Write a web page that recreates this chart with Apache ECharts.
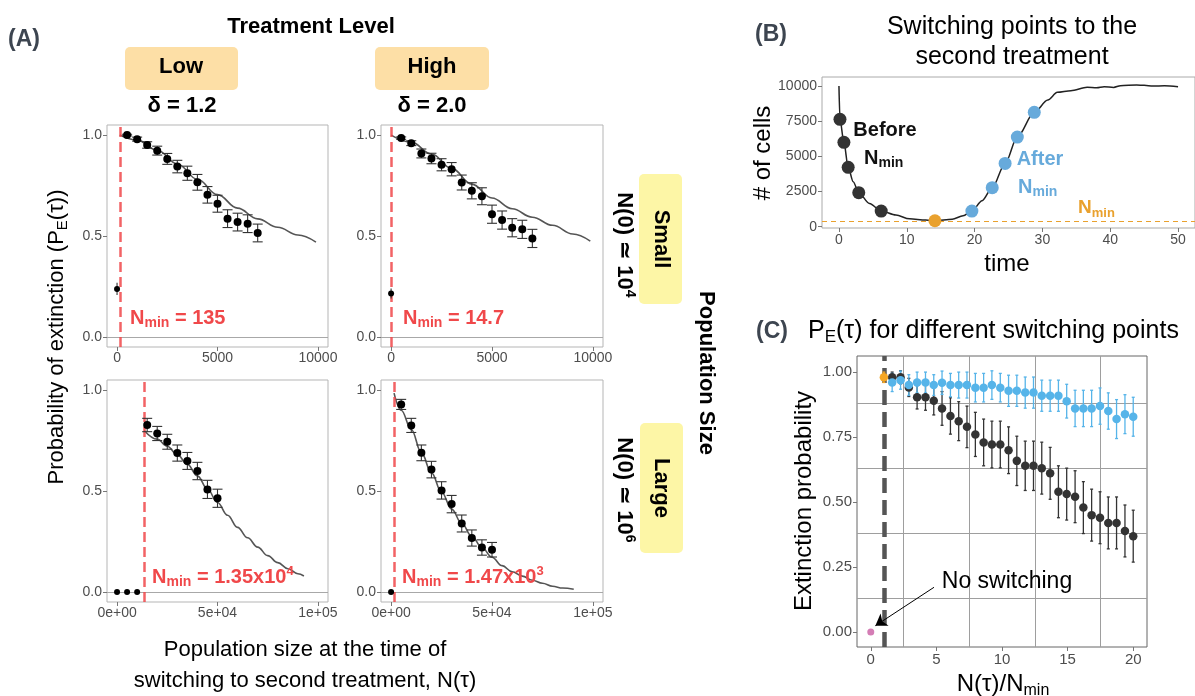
<!DOCTYPE html>
<html>
<head>
<meta charset="utf-8">
<title>Extinction probability vs switching point</title>
<script src="https://cdn.jsdelivr.net/npm/echarts@6/dist/echarts.min.js"></script>
<style>
  html, body { margin: 0; padding: 0; background: #fff; }
  #chart { width: 1195px; height: 696px; }
</style>
</head>
<body>
<div id="chart"></div>
<script>
// ---------- data: panel A (points = simulations, curve = theory) ----------
const smallX = [500, 1000, 1500, 2000, 2500, 3000, 3500, 4000, 4500, 5000, 5500, 6000, 6500, 7000];
const lowSmallY = [1.0, 0.98, 0.951, 0.923, 0.882, 0.844, 0.811, 0.766, 0.704, 0.66, 0.586, 0.569, 0.561, 0.515];
const lowSmallErr = [0.004, 0.01, 0.016, 0.022, 0.027, 0.031, 0.035, 0.039, 0.041, 0.042, 0.044, 0.044, 0.044, 0.044];
const highSmallY = [0.985, 0.96, 0.909, 0.884, 0.853, 0.831, 0.765, 0.724, 0.697, 0.608, 0.579, 0.541, 0.533, 0.488];
const highSmallErr = [0.006, 0.012, 0.022, 0.026, 0.03, 0.033, 0.037, 0.04, 0.042, 0.045, 0.045, 0.045, 0.045, 0.045];

const lowLargeX = [15000, 20000, 25000, 30000, 35000, 40000, 45000, 50000];
const lowLargeY = [0.827, 0.785, 0.744, 0.688, 0.649, 0.599, 0.508, 0.464];
const lowLargeErr = [0.033, 0.035, 0.037, 0.04, 0.042, 0.043, 0.045, 0.045];
const highLargeX = [5000, 10000, 15000, 20000, 25000, 30000, 35000, 40000, 45000, 50000];
const highLargeY = [0.929, 0.825, 0.689, 0.606, 0.503, 0.435, 0.339, 0.267, 0.22, 0.209];
const highLargeErr = [0.025, 0.035, 0.039, 0.041, 0.043, 0.043, 0.042, 0.04, 0.038, 0.036];

// no-switching points (at N = 0 and below Nmin)
const lowSmallNoX = [0], lowSmallNoY = [0.238], lowSmallNoErr = [0.03];
const highSmallNoX = [0], highSmallNoY = [0.215], highSmallNoErr = [0.025];
const lowLargeNoX = [0, 5000, 10000], lowLargeNoY = [0, 0, 0];
const highLargeNoX = [0], highLargeNoY = [0];

const lowSmallCurveX = [135, 1000, 2000, 3000, 4000, 5000, 6000, 7000, 8000, 9000, 9900];
const lowSmallCurveY = [1.0, 0.975, 0.925, 0.857, 0.781, 0.705, 0.638, 0.585, 0.543, 0.505, 0.47];
const highSmallCurveX = [0, 1000, 2000, 3000, 4000, 5000, 6000, 7000, 8000, 9000, 9870];
const highSmallCurveY = [1.0, 0.965, 0.906, 0.835, 0.757, 0.688, 0.635, 0.593, 0.553, 0.51, 0.475];
const lowLargeCurveX = [13500, 20000, 25000, 30000, 35000, 40000, 45000, 50000, 55000, 60000, 65000, 70000, 75000, 80000, 85000, 90000, 93000];
const lowLargeCurveY = [0.8, 0.757, 0.722, 0.68, 0.632, 0.575, 0.51, 0.443, 0.38, 0.32, 0.268, 0.222, 0.18, 0.145, 0.115, 0.09, 0.079];
const highLargeCurveX = [1470, 5000, 10000, 15000, 20000, 25000, 30000, 35000, 40000, 45000, 50000, 55000, 60000, 65000, 70000, 75000, 80000, 85000, 90500];
const highLargeCurveY = [0.985, 0.9, 0.805, 0.69, 0.59, 0.495, 0.41, 0.34, 0.275, 0.22, 0.172, 0.13, 0.1, 0.078, 0.058, 0.043, 0.028, 0.019, 0.013];

const nMinA = [135, 14.7, 13500, 1470];

const ticksSmallX = [0, 5000, 10000];
const labelsSmallX = ['0', '5000', '10000'];
const ticksLargeX = [0, 50000, 100000];
const labelsLargeX = ['0e+00', '5e+04', '1e+05'];
const ticksAY = [0, 0.5, 1];

// ---------- data: panel B (one trajectory) ----------
const bCurveT = [0, 0.15, 0.73, 1.36, 2.1, 2.92, 4.5, 6.23, 8.4, 10.4, 12.8, 14.15, 16.7, 18.3, 19.6, 21.1, 22.6, 24.5, 26.3, 28.8, 30.8, 32.2, 34.2, 36.6, 38, 39.1, 40.5, 41.5, 43.9, 45, 46.3, 48, 50];
const bCurveN = [10000, 7630, 5995, 4218, 3200, 2417, 1650, 1114, 830, 560, 470, 427, 540, 780, 1114, 1850, 2773, 4502, 6374, 8128, 9005, 9550, 9668, 9905, 9880, 9953, 9900, 10024, 10071, 10050, 10000, 10010, 9953];
const bBeforeT = [0.15, 0.73, 1.36, 2.92, 6.23];
const bBeforeN = [7630, 5995, 4218, 2417, 1114];
const bMinT = [14.15];
const bMinN = [427];
const bAfterT = [19.6, 22.6, 24.5, 26.3, 28.8];
const bAfterN = [1114, 2773, 4502, 6374, 8128];
const nMinB = 380;
const ticksBX = [0, 10, 20, 30, 40, 50];
const ticksBY = [0, 2500, 5000, 7500, 10000];

// ---------- data: panel C ----------
const cX = [1.63, 2.27, 2.90, 3.53, 4.17, 4.80, 5.43, 6.07, 6.70, 7.33, 7.97, 8.60, 9.23, 9.87, 10.50,
            11.13, 11.77, 12.40, 13.03, 13.67, 14.30, 14.93, 15.57, 16.20, 16.83, 17.47, 18.10, 18.73, 19.37, 20.00];
const cBeforeY = [0.981, 0.981, 0.942, 0.904, 0.904, 0.891, 0.861, 0.832, 0.812, 0.79, 0.761, 0.73, 0.722, 0.722, 0.70,
                  0.659, 0.64, 0.64, 0.631, 0.611, 0.54, 0.531, 0.521, 0.479, 0.45, 0.44, 0.42, 0.42, 0.389, 0.369];
const cBeforeErr = [0.02, 0.025, 0.035, 0.045, 0.05, 0.055, 0.065, 0.07, 0.075, 0.08, 0.085, 0.09, 0.09, 0.09, 0.09,
                    0.095, 0.095, 0.095, 0.1, 0.1, 0.1, 0.1, 0.1, 0.1, 0.1, 0.1, 0.1, 0.1, 0.1, 0.1];
const cAfterY = [0.961, 0.97, 0.951, 0.961, 0.961, 0.951, 0.96, 0.951, 0.951, 0.951, 0.941, 0.941, 0.951, 0.941, 0.929,
                 0.929, 0.922, 0.922, 0.91, 0.91, 0.91, 0.889, 0.861, 0.861, 0.861, 0.87, 0.851, 0.82, 0.839, 0.829];
const cAfterErr = [0.035, 0.035, 0.04, 0.04, 0.04, 0.04, 0.045, 0.045, 0.05, 0.05, 0.055, 0.055, 0.055, 0.055, 0.06,
                   0.06, 0.06, 0.06, 0.06, 0.06, 0.06, 0.065, 0.07, 0.07, 0.07, 0.07, 0.07, 0.075, 0.075, 0.075];
const cMinX = [1], cMinY = [0.981], cMinErr = [0.02];
const cNoX = [0], cNoY = [0];
const ticksCX = [0, 5, 10, 15, 20];
const ticksCY = [0, 0.25, 0.5, 0.75, 1];
const gridCX = [2.5, 7.5, 12.5, 17.5];
const gridCY = [0.125, 0.375, 0.625, 0.875];

// ---------- helpers ----------
const FONT = '"Liberation Sans", Arial, Helvetica, sans-serif';
const GRAY = '#4d4d4d';
const RED = '#f0484a';
const DARK = '#333333';
const BLUE_B = '#67aadb';
const BLUE_C = '#56b4e9';
const ORANGE = '#e9a12e';

const zip = (xs, ys, es) => xs.map((x, i) => (es ? [x, ys[i], es[i]] : [x, ys[i]]));

function errorBars(capHalf, color, lw) {
  return function (params, api) {
    const x = api.value(0), y = api.value(1), e = api.value(2);
    const a = api.coord([x, y + e]);
    const b = api.coord([x, y - e]);
    const st = { stroke: color, lineWidth: lw };
    const kids = [{ type: 'line', shape: { x1: a[0], y1: a[1], x2: b[0], y2: b[1] }, style: st }];
    if (capHalf > 0) {
      kids.push({ type: 'line', shape: { x1: a[0] - capHalf, y1: a[1], x2: a[0] + capHalf, y2: a[1] }, style: st });
      kids.push({ type: 'line', shape: { x1: b[0] - capHalf, y1: b[1], x2: b[0] + capHalf, y2: b[1] }, style: st });
    }
    return { type: 'group', children: kids };
  };
}

function errSeries(idx, data, capHalf, color, lw) {
  return {
    type: 'custom', xAxisIndex: idx, yAxisIndex: idx, z: 8, clip: false,
    renderItem: errorBars(capHalf, color, lw),
    encode: { x: 0, y: 1 }, data
  };
}

function dots(idx, data, color, size, z) {
  return {
    type: 'scatter', xAxisIndex: idx, yAxisIndex: idx, z: z || 10,
    symbolSize: size, itemStyle: { color, opacity: 1 }, data, silent: true
  };
}

function valueAxis(idx, min, max, ticks, fmt, fontSize, margin) {
  return {
    type: 'value', gridIndex: idx, min, max,
    axisLine: { show: false, onZero: false },
    axisTick: { show: true, customValues: ticks, length: 4, lineStyle: { color: '#777' } },
    axisLabel: { customValues: ticks, formatter: fmt, color: GRAY, fontSize, fontFamily: FONT, margin },
    splitLine: { show: false }
  };
}

const gridsA = [
  { left: 107, top: 125, width: 221, height: 222 },
  { left: 381, top: 125, width: 222, height: 222 },
  { left: 107, top: 380, width: 221, height: 222 },
  { left: 381, top: 380, width: 222, height: 222 }
];

const panelsA = [
  { pts: zip(smallX, lowSmallY, lowSmallErr), no: zip(lowSmallNoX, lowSmallNoY, lowSmallNoErr), curve: zip(lowSmallCurveX, lowSmallCurveY), large: false },
  { pts: zip(smallX, highSmallY, highSmallErr), no: zip(highSmallNoX, highSmallNoY, highSmallNoErr), curve: zip(highSmallCurveX, highSmallCurveY), large: false },
  { pts: zip(lowLargeX, lowLargeY, lowLargeErr), no: zip(lowLargeNoX, lowLargeNoY), curve: zip(lowLargeCurveX, lowLargeCurveY), large: true },
  { pts: zip(highLargeX, highLargeY, highLargeErr), no: zip(highLargeNoX, highLargeNoY), curve: zip(highLargeCurveX, highLargeCurveY), large: true }
];

const grids = [];
const xAxes = [];
const yAxes = [];
const series = [];

panelsA.forEach((p, i) => {
  grids.push({ ...gridsA[i], show: true, borderColor: '#b5b5b5', borderWidth: 1, backgroundColor: '#fff' });
  const ticks = p.large ? ticksLargeX : ticksSmallX;
  const labels = p.large ? labelsLargeX : labelsSmallX;
  xAxes.push(valueAxis(i, p.large ? -5000 : -500, p.large ? 105000 : 10500, ticks,
    (v) => labels[ticks.indexOf(v)], 14, 4));
  yAxes.push(valueAxis(i, -0.05, 1.05, ticksAY, (v) => v.toFixed(1), 14, 5));
  series.push({
    type: 'line', xAxisIndex: i, yAxisIndex: i, z: 3, data: p.curve, showSymbol: false,
    smooth: 0.4, smoothMonotone: 'x', lineStyle: { color: '#555', width: 1.6 }, silent: true,
    markLine: {
      silent: true, symbol: ['none', 'none'], z: 4, label: { show: false }, animation: false,
      data: [
        { yAxis: 0, lineStyle: { color: '#a8a8a8', width: 1, type: 'solid' } },
        { xAxis: nMinA[i], lineStyle: { color: RED, width: 2.5, type: [10, 5], opacity: 0.85 } }
      ]
    }
  });
  series.push(errSeries(i, p.pts, 5, '#333', 1.1));
  series.push(dots(i, p.pts, '#000', 8));
  if (!p.large) series.push(errSeries(i, p.no, 0, '#333', 1.1));
  series.push(dots(i, p.no, '#000', 6));
});

// panel B
grids.push({ left: 822, top: 77, width: 377, height: 151, show: true, borderColor: '#aaa', borderWidth: 1 });
xAxes.push(valueAxis(4, -2.5, 52.5, ticksBX, (v) => String(v), 14, 5));
yAxes.push(valueAxis(4, -90, 10640, ticksBY, (v) => String(v), 14, 5));
series.push({
  type: 'line', xAxisIndex: 4, yAxisIndex: 4, z: 3, data: zip(bCurveT, bCurveN), showSymbol: false,
  smooth: 0.3, smoothMonotone: 'x', lineStyle: { color: '#222', width: 1.5 }, silent: true,
  markLine: {
    silent: true, symbol: ['none', 'none'], z: 2, label: { show: false }, animation: false,
    data: [{ yAxis: nMinB, lineStyle: { color: ORANGE, width: 1.2, type: [5, 4] } }]
  }
});
series.push(dots(4, zip(bBeforeT, bBeforeN), DARK, 13));
series.push(dots(4, zip(bMinT, bMinN), ORANGE, 13));
series.push(dots(4, zip(bAfterT, bAfterN), BLUE_B, 13));

// panel C
grids.push({ left: 857, top: 356, width: 290, height: 291, show: true, borderColor: '#666', borderWidth: 1 });
xAxes.push(valueAxis(5, -1.05, 21.05, ticksCX, (v) => String(v), 15, 5));
yAxes.push(valueAxis(5, -0.058, 1.063, ticksCY, (v) => v.toFixed(2), 15, 5));
series.push({
  type: 'line', xAxisIndex: 5, yAxisIndex: 5, z: 1, data: [], silent: true,
  markLine: {
    silent: true, symbol: ['none', 'none'], z: 1, label: { show: false }, animation: false,
    lineStyle: { color: '#9e9e9e', width: 1, type: 'solid' },
    data: gridCX.map((v) => ({ xAxis: v })).concat(gridCY.map((v) => ({ yAxis: v })))
  }
});
series.push({
  type: 'line', xAxisIndex: 5, yAxisIndex: 5, z: 4, data: [], silent: true,
  markLine: {
    silent: true, symbol: ['none', 'none'], z: 4, label: { show: false }, animation: false,
    data: [{ xAxis: 1, lineStyle: { color: '#555', width: 4.5, type: [15, 7] } }]
  }
});
series.push(errSeries(5, zip(cX, cBeforeY, cBeforeErr), 1.5, '#333', 1.3));
series.push(dots(5, zip(cX, cBeforeY), DARK, 8.5));
series.push(errSeries(5, zip(cX, cAfterY, cAfterErr), 1.5, BLUE_C, 1.3));
series.push(dots(5, zip(cX, cAfterY), BLUE_C, 8.5, 11));
series.push(errSeries(5, zip(cMinX, cMinY, cMinErr), 1.5, '#f5a623', 1.3));
series.push(dots(5, zip(cMinX, cMinY), '#f5a623', 8.5, 12));
series.push(dots(5, zip(cNoX, cNoY), '#d47db5', 7, 12));
series.push({
  type: 'line', xAxisIndex: 5, yAxisIndex: 5, z: 12, data: [], silent: true,
  markLine: {
    silent: true, symbol: ['none', 'arrow'], symbolSize: 11, z: 12, label: { show: false }, animation: false,
    lineStyle: { color: '#000', width: 1, type: 'solid' },
    data: [[{ coord: [4.82, 0.172] }, { coord: [0.35, 0.024] }]]
  }
});

// ---------- text / decorations ----------
function tok(size, color, bold, va) {
  const t = { fontSize: size, fontFamily: FONT, fontWeight: bold ? 'bold' : 'normal', fill: color };
  if (va === 'sub') { t.lineHeight = Math.round(size); t.verticalAlign = 'bottom'; }
  else if (va === 'sup') { t.lineHeight = Math.round(size); t.verticalAlign = 'top'; }
  else t.lineHeight = Math.round(size * 1.2);
  return t;
}

function rich(x, y, text, size, color, bold, opts) {
  opts = opts || {};
  return {
    type: 'text', x, y, rotation: opts.rot || 0, z: 100, silent: true,
    style: {
      text, align: opts.align || 'center', verticalAlign: 'middle',
      fontSize: size, fontFamily: FONT, fontWeight: bold ? 'bold' : 'normal', fill: color,
      rich: {
        n: tok(size, color, bold),
        s: tok(Math.round(size * 0.68), color, bold, 'sub'),
        p: tok(Math.round(size * 0.65), color, bold, 'sup')
      }
    }
  };
}

function box(x, y, w, h, color) {
  return { type: 'rect', z: 90, silent: true, shape: { x, y, width: w, height: h, r: 5 }, style: { fill: color } };
}

const HEAD = '#3d4550';
const ORANGE_BOX = '#fddfa6';
const YELLOW_BOX = '#fdf6a6';
const CW = -Math.PI / 2;
const CCW = Math.PI / 2;

const graphics = [
  rich(24, 40, '{n|(A)}', 23, HEAD, true),
  rich(311, 27, '{n|Treatment Level}', 22, '#000', true),
  box(125, 47, 113, 43, ORANGE_BOX),
  box(375, 47, 114, 43, ORANGE_BOX),
  rich(181, 67, '{n|Low}', 22, '#000', true),
  rich(432, 67, '{n|High}', 22, '#000', true),
  rich(182, 106, '{n|δ = 1.2}', 22, '#000', true),
  rich(432, 106, '{n|δ = 2.0}', 22, '#000', true),

  box(639, 174, 43, 130, YELLOW_BOX),
  box(640, 423, 43, 130, YELLOW_BOX),
  rich(661, 239, '{n|Small}', 22, '#000', true, { rot: CW }),
  rich(661, 488, '{n|Large}', 22, '#000', true, { rot: CW }),
  rich(624, 245, '{n|N(0) ≃ 10}{p|4}', 22, '#000', true, { rot: CW }),
  rich(624, 490, '{n|N(0) ≃ 10}{p|6}', 22, '#000', true, { rot: CW }),
  rich(706, 373, '{n|Population Size}', 22, '#000', true, { rot: CW }),

  rich(57, 337, '{n|Probability of extinction (P}{s|E}{n|(τ))}', 22, '#000', false, { rot: CCW }),
  rich(305, 650, '{n|Population size at the time of}', 22, '#000', false),
  rich(305, 681, '{n|switching to second treatment, N(τ)}', 22, '#000', false),

  rich(130, 318, '{n|N}{s|min}{n| = 135}', 20, RED, true, { align: 'left' }),
  rich(403, 318, '{n|N}{s|min}{n| = 14.7}', 20, RED, true, { align: 'left' }),
  rich(152, 577, '{n|N}{s|min}{n| = 1.35x10}{p|4}', 20, RED, true, { align: 'left' }),
  rich(402, 577, '{n|N}{s|min}{n| = 1.47x10}{p|3}', 20, RED, true, { align: 'left' }),

  rich(771, 35, '{n|(B)}', 23, HEAD, true),
  rich(1012, 27, '{n|Switching points to the}', 25, '#000', false),
  rich(1012, 57, '{n|second treatment}', 25, '#000', false),
  rich(763, 153, '{n|# of cells}', 24, '#000', false, { rot: CCW }),
  rich(1007, 264, '{n|time}', 24, '#000', false),
  rich(885, 130, '{n|Before}', 20, '#111', true),
  rich(864, 158, '{n|N}{s|min}', 20, '#111', true, { align: 'left' }),
  rich(1040, 159, '{n|After}', 20, BLUE_B, true),
  rich(1018, 187, '{n|N}{s|min}', 20, BLUE_B, true, { align: 'left' }),
  rich(1078, 208, '{n|N}{s|min}', 19, ORANGE, true, { align: 'left' }),

  rich(772, 332, '{n|(C)}', 23, HEAD, true),
  rich(808, 331, '{n|P}{s|E}{n|(τ) for different switching points}', 25, '#000', false, { align: 'left' }),
  rich(804, 501, '{n|Extinction probability}', 24, '#000', false, { rot: CCW }),
  rich(1003, 684, '{n|N(τ)/N}{s|min}', 24, '#000', false),
  rich(1007, 582, '{n|No switching}', 23, '#000', false)
];

const chart = echarts.init(document.getElementById('chart'), null, { renderer: 'canvas' });
chart.setOption({
  animation: false,
  backgroundColor: '#fff',
  grid: grids,
  xAxis: xAxes,
  yAxis: yAxes,
  series,
  graphic: { elements: graphics }
});
</script>
</body>
</html>
